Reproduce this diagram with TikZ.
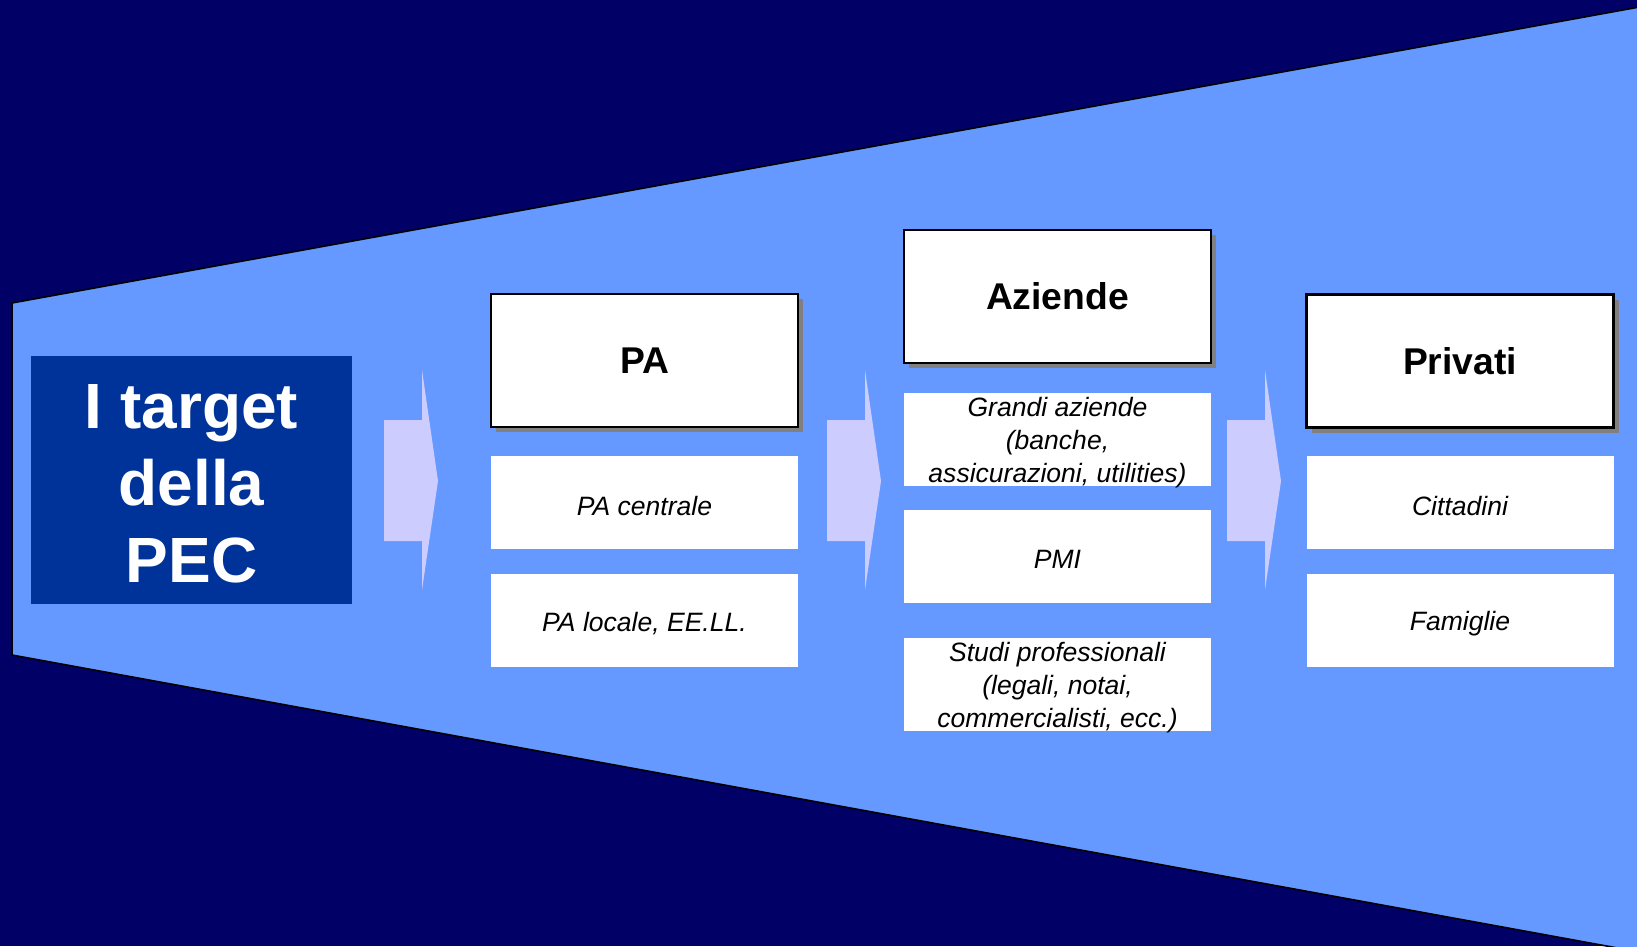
\documentclass[tikz,border=0pt]{standalone}
\usepackage{fontspec}
\setmainfont{Liberation Sans}
\usepackage{tkz-euclide}
\usetikzlibrary{shadows}
\definecolor{navy}{HTML}{000066}
\definecolor{funnel}{HTML}{6699FF}
\definecolor{titleblue}{HTML}{003399}
\definecolor{lavender}{HTML}{CCCCFF}
\newcommand{\topgap}{\rule{0pt}{7.3pt}}
\tikzset{
  hdr/.style={draw=black, line width=0.6pt, fill=white, minimum width=3.07cm, minimum height=1.33cm,
    inner sep=0pt, font=\fontsize{10.6}{13}\selectfont\bfseries,
    drop shadow={shadow xshift=0.05cm, shadow yshift=-0.05cm, fill=gray, opacity=1}},
  item/.style={fill=white, minimum width=3.07cm, minimum height=0.93cm, inner xsep=0pt, inner ysep=-1.5pt,
    align=center, font=\fontsize{7.55}{9.4}\selectfont\itshape},
  flow/.style={fill=lavender}
}

\begin{document}
\begin{tikzpicture}
\useasboundingbox[fill=navy] (0,0) rectangle (16.37,9.46);
\tkzDefPoints{0.12/6.43/A, 16.45/9.40/B, 16.45/-0.07/C, 0.12/2.91/D}
\draw[fill=funnel, line width=0.45pt] (A) -- (B) -- (C) -- (D) -- cycle;
\node[fill=titleblue, minimum width=3.21cm, minimum height=2.48cm, text=white, align=center,
  font=\fontsize{18.2}{21.9}\selectfont\bfseries] (title) at (1.915,4.66) {\rule{0pt}{14.8pt}I target\\della\\PEC};
\foreach \x in {3.84, 8.27, 12.27}
  \fill[flow] (\x,5.26) -- ({\x+0.38},5.26) -- ({\x+0.38},5.76) -- ({\x+0.54},4.65)
    -- ({\x+0.38},3.56) -- ({\x+0.38},4.05) -- (\x,4.05) -- cycle;
\node[hdr] (pa) at (6.445,5.855) {PA};
\node[item] (pacentrale) at (6.445,4.435) {\topgap PA centrale};
\node[item] (palocale) at (6.445,3.26) {\topgap PA locale, EE.LL.};
\node[hdr] (aziende) at (10.575,6.495) {Aziende};
\node[item] (grandi) at (10.575,5.065) {\topgap Grandi aziende\\(banche,\\assicurazioni, utilities)};
\node[item] (pmi) at (10.575,3.90) {\topgap PMI};
\node[item] (studi) at (10.575,2.615) {\topgap Studi professionali\\(legali, notai,\\commercialisti, ecc.)};
\node[hdr] (privati) at (14.60,5.85) {Privati};
\node[item] (cittadini) at (14.60,4.435) {\topgap Cittadini};
\node[item] (famiglie) at (14.60,3.26) {\topgap Famiglie};
\end{tikzpicture}
\end{document}
